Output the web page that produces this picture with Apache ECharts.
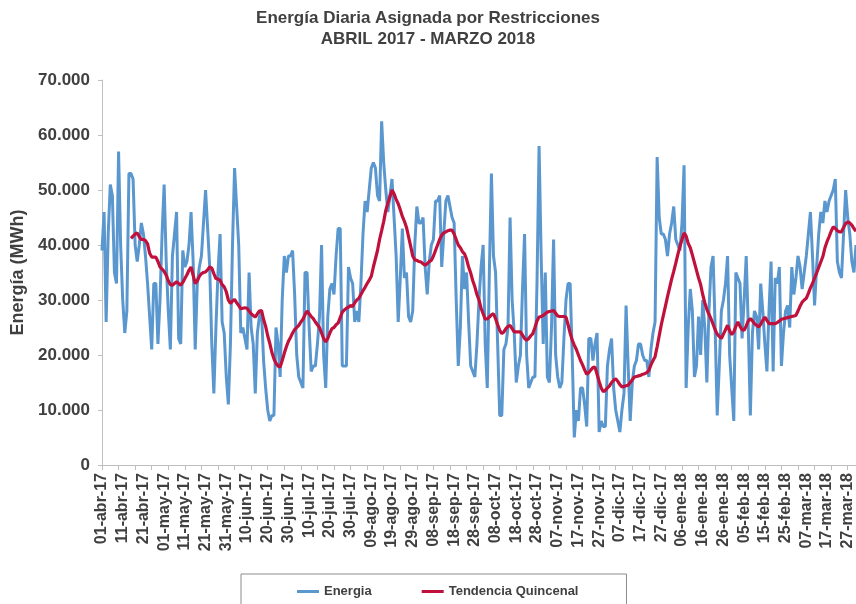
<!DOCTYPE html>
<html>
<head>
<meta charset="utf-8">
<script src="https://cdn.jsdelivr.net/npm/echarts@6/dist/echarts.min.js"></script>
<style>
html,body{margin:0;padding:0;background:#fff;}
#chart{width:856px;height:604px;}
</style>
</head>
<body>
<div id="chart"></div>
<script>
// Daily energy (thousand MWh), 01-abr-2017 .. 31-mar-2018
const energiaK = [
39,46,26,42,51,49,35,33,57,40, 30,24,28,53,53,52,40,37,40,44,
42,38,33,27,21,33,33,22,30,42, 51,37,28,21,38,42,46,23,22,39,
36,37,40,46,37,21,33,36,38,44, 50,43,36,22,13,25,35,42,26,24,
16,11,22,40,54,47,40,24,25,23, 21,35,25,22,13,24,27,28,19,14,
10,8,9,9,25,22,16,30,38,35, 38,38,39,31,20,16,15,14,35,35,
25,17,18,18,22,27,40,20,14,27, 32,33,31,38,43,43,18,18,18,36,
34,33,26,28,26,33,42,48,46,50, 54,55,54,49,48,62.5,55,50,46,49,
52,45,38,26,34,43,34,35,27,26, 28,40,47,44,44,45,36,31,37,40,
41,48,48,49,36,42,48,49,47,45, 44,30,18,25,38,32,35,26,18,17,
16,22,30,36,40,22,14,35,53,38, 35,22,9,9,21,22,25,45,30,24,
15,18,20,32,42,20,14,15,16,16, 33,58,38,22,35,16,15,25,41,20,
16,14,15,23,30,33,33,20,5,10, 8,14,14,11,7,23,23,19,22,24,
6,8,7,7,18,21,23,14,10,8, 6,10,13,29,18,8,15,18,19,22,
22,20,19,19,16,21,24,26,56,45, 42,42,41,38,42,44,47,41,40,39,
44,54.5,14,25,32,28,16,18,27,20, 30,25,15,28,36,38,25,9,18,28,
30,33,38,20,14,8,35,34,33,23, 30,38,25,9,24,28,27,21,33,28,
22,17,28,37,17,34,33,36,18,24, 28,29,25,36,31,34,38,36,32,35,
38,42,46,38,29,36,42,46,44,48, 46,48,49,50,52,37,35,34,42,50,
45,42,37,35,40
];
// 15-day trend (thousand MWh); starts on day 15
const tendenciaK = [
null,null,null,null,null,null,null,null,null,null,null,null,null,null,
41.2,41.6,42.0,42.2,41.5,41.0,41.0,40.8,40.2,38.5,37.8,37.8,37.8,37.0,36.0,35.6,
35.2,34.5,33.5,32.8,32.7,33.0,33.3,33.0,32.7,33.2,33.9,34.6,35.4,36.0,34.5,33.0,
33.5,34.3,34.8,35.0,35.1,35.5,36.0,35.8,34.8,33.9,33.8,33.6,32.8,32.4,31.5,30.0,
29.4,29.8,30.1,29.5,29.0,28.4,28.5,28.6,28.5,28.0,27.5,27.2,26.9,27.5,28.0,28.1,
26.5,25.2,23.5,22.1,20.5,19.3,18.5,18.0,17.8,19.0,20.3,21.5,22.5,23.2,24.0,24.6,
25.0,25.4,26.0,26.5,27.3,28.0,27.5,27.0,26.6,26.0,25.5,25.0,24.0,23.0,22.4,23.0,
24.0,24.8,25.0,25.5,25.8,26.8,27.8,28.2,28.5,28.7,29.0,28.8,29.5,30.0,30.3,31.0,
31.7,32.3,33.0,33.6,34.3,36.0,37.5,39.0,41.0,42.6,44.3,46.3,47.6,48.8,50.0,49.3,
48.3,47.5,46.4,45.2,44.3,43.2,41.5,39.8,38.0,37.3,37.2,37.0,36.9,36.6,36.3,36.6,
37.0,37.2,38.0,39.0,40.0,41.0,41.8,42.2,42.4,42.6,42.7,42.7,42.0,41.0,40.0,39.5,
38.8,38.4,37.4,36.0,34.9,33.5,32.4,31.0,30.0,28.5,27.5,26.5,26.6,26.9,27.3,27.5,
26.6,25.5,24.5,23.9,24.2,24.8,25.2,25.4,24.8,24.2,24.2,24.2,24.2,23.6,23.0,22.7,
23.0,23.5,23.9,25.0,26.2,26.9,27.0,27.2,27.5,27.8,27.9,28.0,28.1,27.6,27.1,27.0,
27.0,27.0,26.9,25.5,24.0,22.7,21.8,21.0,20.0,19.0,18.2,17.3,16.5,16.8,17.3,17.7,
17.8,16.5,15.2,14.0,13.3,13.6,14.0,14.4,15.0,15.4,15.7,15.2,14.6,14.2,14.3,14.4,
14.5,15.0,15.5,16.0,16.1,16.2,16.3,16.5,16.6,16.8,17.2,18.2,19.0,19.7,21.5,23.5,
25.5,27.2,28.9,30.6,32.2,33.8,35.2,36.7,38.3,39.7,41.0,42.2,41.6,40.3,39.5,38.2,
36.8,35.4,34.0,32.8,31.0,29.5,28.3,27.4,26.6,25.6,24.6,23.8,23.4,23.0,23.8,24.6,
25.4,24.4,23.7,24.2,25.2,26.0,25.2,24.6,24.5,25.3,26.2,26.6,26.2,25.7,25.4,25.1,
25.6,26.3,26.9,26.3,25.7,25.7,25.7,25.7,25.9,26.2,26.5,26.6,26.7,26.8,26.9,27.0,
27.1,27.2,28.0,28.9,29.6,30.0,30.3,31.2,32.2,33.0,34.0,34.9,35.9,36.9,37.9,39.5,
40.6,41.5,42.5,43.3,43.0,42.6,42.4,42.4,43.2,43.9,44.2,44.0,43.6,43.0,42.5
];
const monthNames = ['ene','feb','mar','abr','may','jun','jul','ago','sep','oct','nov','dic'];
const startDate = Date.UTC(2017, 3, 1);
const categories = [];
for (let i = 0; i < energiaK.length; i++) {
  const d = new Date(startDate + i * 86400000);
  const dd = String(d.getUTCDate()).padStart(2, '0');
  const yy = String(d.getUTCFullYear()).slice(2);
  categories.push(dd + '-' + monthNames[d.getUTCMonth()] + '-' + yy);
}
const energia = energiaK.map(v => v * 1000);
const tendencia = tendenciaK.map(v => v == null ? null : v * 1000);

const FONT = "'Liberation Sans', Arial, sans-serif";
const TXT = '#404040';
const BLUE = '#5B97CF';
const RED = '#C0103C';

const chart = echarts.init(document.getElementById('chart'), null, {renderer: 'canvas'});
chart.setOption({
  animation: false,
  backgroundColor: '#ffffff',
  title: {
    text: 'Energía Diaria Asignada por Restricciones\nABRIL 2017 - MARZO 2018',
    left: 'center',
    top: 8,
    padding: [0, 0, 0, 20],
    textStyle: {fontFamily: FONT, fontSize: 17, fontWeight: 'bold', color: TXT, lineHeight: 21}
  },
  legend: {
    left: 241,
    top: 574,
    padding: [11, 48, 30, 56],
    itemGap: 50,
    itemWidth: 22,
    itemHeight: 3,
    icon: 'rect',
    borderColor: '#8c8c8c',
    borderWidth: 1,
    textStyle: {fontFamily: FONT, fontSize: 13, fontWeight: 'bold', color: TXT},
    data: ['Energia', 'Tendencia Quincenal']
  },
  grid: {left: 102, right: -2, top: 80, bottom: 139, containLabel: false},
  xAxis: {
    type: 'category',
    data: categories,
    boundaryGap: false,
    axisLine: {show: true, lineStyle: {color: '#bfbfbf', width: 1}},
    axisTick: {show: true, length: 5, interval: function (i) { return i % 8 === 0; }, lineStyle: {color: '#bfbfbf'}},
    axisLabel: {interval: 9, rotate: 90, margin: 8, fontFamily: FONT, fontSize: 16, fontWeight: 'bold', color: TXT},
    splitLine: {show: false}
  },
  yAxis: {
    type: 'value',
    min: 0,
    max: 70000,
    interval: 10000,
    name: 'Energía (MWh)',
    nameLocation: 'middle',
    nameGap: 64,
    nameTextStyle: {fontFamily: FONT, fontSize: 18, fontWeight: 'bold', color: TXT},
    axisLine: {show: true, lineStyle: {color: '#bfbfbf', width: 1}},
    axisTick: {show: true, length: 4, lineStyle: {color: '#bfbfbf'}},
    axisLabel: {
      margin: 12,
      fontFamily: FONT, fontSize: 17, fontWeight: 'bold', color: TXT,
      formatter: function (v) { return v === 0 ? '0' : (v / 1000) + '.000'; }
    },
    splitLine: {show: false}
  },
  series: [
    {
      name: 'Energia',
      type: 'line',
      data: energia,
      symbol: 'none',
      showSymbol: false,
      lineStyle: {color: BLUE, width: 3},
      itemStyle: {color: BLUE},
      z: 2
    },
    {
      name: 'Tendencia Quincenal',
      type: 'line',
      data: tendencia,
      symbol: 'none',
      showSymbol: false,
      connectNulls: false,
      lineStyle: {color: RED, width: 3.2},
      itemStyle: {color: RED},
      z: 3
    }
  ]
});
</script>
</body>
</html>
